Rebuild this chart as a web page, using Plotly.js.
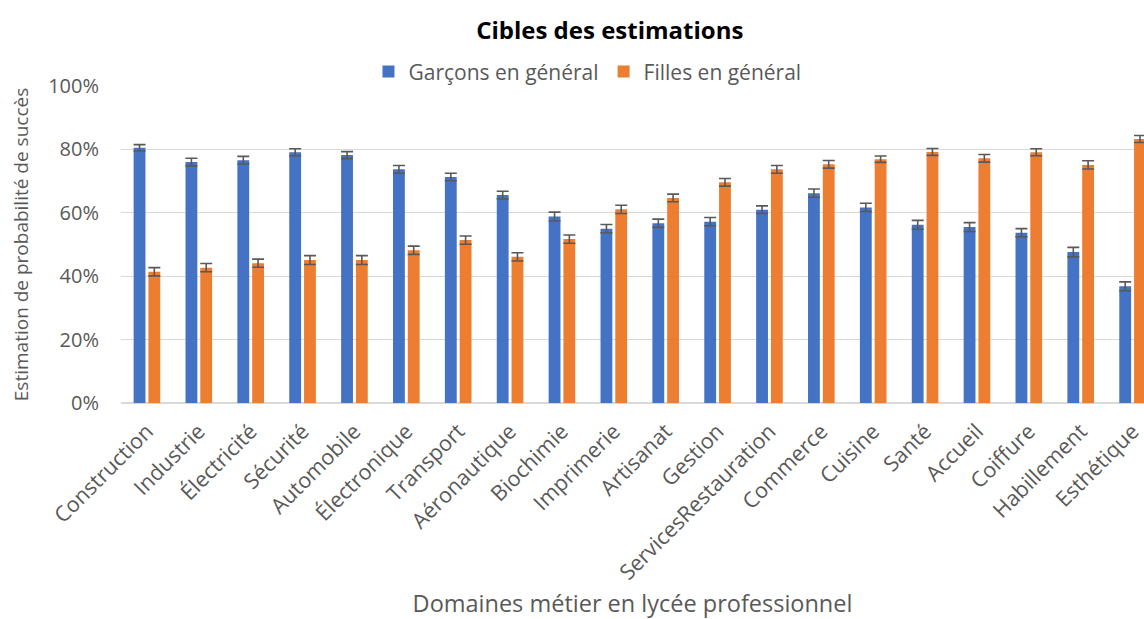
<!DOCTYPE html>
<html>
<head>
<meta charset="utf-8">
<script src="https://cdn.plot.ly/plotly-3.0.1.min.js"></script>
<style>
html,body{margin:0;padding:0;background:#fff;}
#chart{width:1144px;height:619px;}
</style>
</head>
<body>
<div id="chart"></div>
<script>
const categories = ["Construction","Industrie","Électricité","Sécurité","Automobile","Électronique","Transport","Aéronautique","Biochimie","Imprimerie","Artisanat","Gestion","ServicesRestauration","Commerce","Cuisine","Santé","Accueil","Coiffure","Habillement","Esthétique"];
const garcons = [80.5,76.0,76.6,79.1,78.2,73.7,71.3,65.6,58.8,55.0,56.7,57.2,61.0,66.2,61.7,56.2,55.5,53.7,47.6,36.8];
const garconsErr = [1.0,1.2,1.2,1.1,1.1,1.2,1.2,1.2,1.4,1.3,1.3,1.3,1.2,1.3,1.3,1.4,1.4,1.3,1.5,1.4];
const filles = [41.4,42.7,44.1,45.1,45.1,48.2,51.4,46.1,51.7,61.1,64.7,69.6,73.7,75.3,76.9,79.2,77.2,79.1,75.1,83.3];
const fillesErr = [1.3,1.3,1.3,1.4,1.4,1.3,1.3,1.3,1.3,1.3,1.2,1.2,1.2,1.2,1.0,1.1,1.2,1.1,1.3,1.1];
const yTicks = [0,20,40,60,80,100];
const yTickText = yTicks.map(v => v + '%');

const FONT = "'Open Sans', 'Noto Sans', sans-serif";
const GREY = "#595959";

const errStyle = {type:'data', visible:true, color:GREY, thickness:1.6, width:6};

const traces = [
  {type:'bar', name:'Garçons en général', x:categories, y:garcons,
   marker:{color:'#4472C4'},
   error_y:Object.assign({array:garconsErr}, errStyle)},
  {type:'bar', name:'Filles en général', x:categories, y:filles,
   marker:{color:'#ED7D31'},
   error_y:Object.assign({array:fillesErr}, errStyle)}
];

const layout = {
  width:1144, height:619,
  margin:{l:121, r:0, t:86, b:216, pad:0},
  paper_bgcolor:'#fff', plot_bgcolor:'#fff',
  font:{family:FONT, color:GREY},
  title:{text:'<b>Cibles des estimations</b>', font:{family:FONT, size:24, color:'#000'},
         xref:'container', x:0.533, xanchor:'center', yref:'container', y:0.951, yanchor:'middle'},
  barmode:'group', bargap:0.43, bargroupgap:0.2,
  showlegend:true,
  legend:{orientation:'h', x:0.456, xanchor:'center', y:1.045, yanchor:'middle',
          font:{family:FONT, size:21, color:GREY}, itemclick:false, bgcolor:'rgba(0,0,0,0)'},
  xaxis:{type:'category', range:[-0.5,19.22], tickangle:-45,
         tickfont:{family:FONT, size:21.5, color:GREY},
         showgrid:false, showline:true, linecolor:'#d9d9d9', linewidth:1.3,
         ticks:'', ticklabelstandoff:6, automargin:false,
         title:{text:'Domaines métier en lycée professionnel', font:{family:FONT, size:23.5, color:GREY}, standoff:22}},
  yaxis:{range:[0,100], tickmode:'array', tickvals:yTicks, ticktext:yTickText,
         tickfont:{family:FONT, size:20, color:GREY},
         showgrid:true, gridcolor:'#d9d9d9', gridwidth:1.3,
         zeroline:true, zerolinecolor:'#d9d9d9', zerolinewidth:1.3,
         showline:false, ticks:'', ticklabelstandoff:21, automargin:false,
         title:{text:'Estimation de probabilité de succès', font:{family:FONT, size:19, color:GREY}, standoff:14}}
};

Plotly.newPlot('chart', traces, layout, {displayModeBar:false, staticPlot:true});
</script>
</body>
</html>
